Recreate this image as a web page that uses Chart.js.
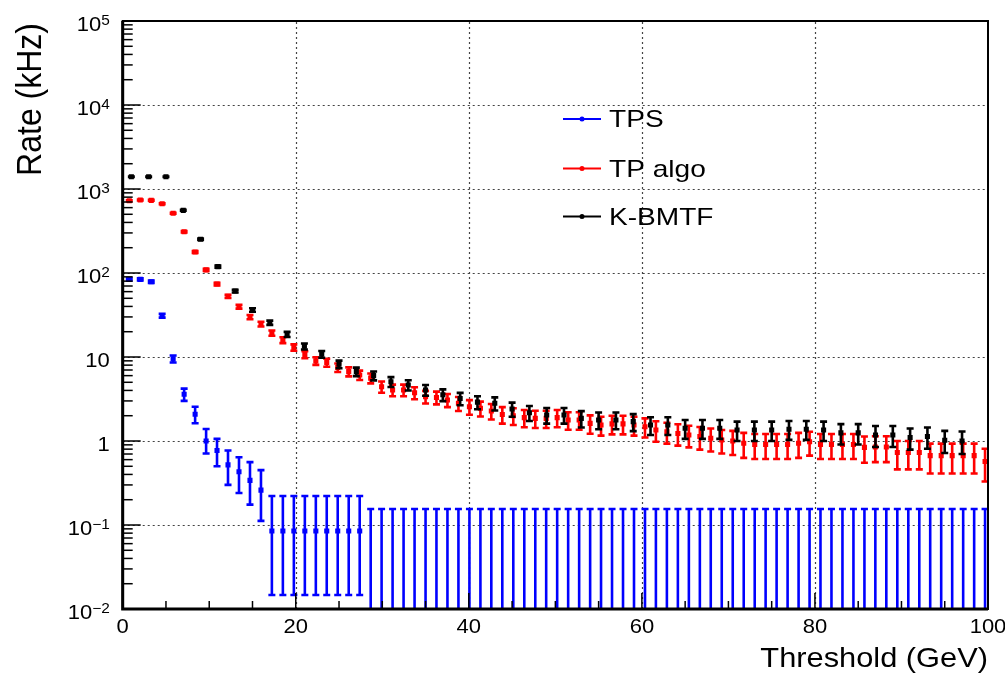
<!DOCTYPE html>
<html><head><meta charset="utf-8">
<script src="https://cdn.jsdelivr.net/npm/chart.js@4.4.0/dist/chart.umd.min.js"></script>
<style>html,body{margin:0;padding:0;background:#fff;}#wrap{width:1005px;height:675px;}</style>
</head><body><div id="wrap"><canvas id="c" width="1005" height="675"></canvas></div>
<script>
// ---------- data ----------
const seriesNames = ['TPS', 'TP algo', 'K-BMTF'];
const xTitle = 'Threshold (GeV)';
const yTitle = 'Rate (kHz)';
const xTickLabels = ['0', '20', '40', '60', '80', '100'];
const xTickValues = [0, 20, 40, 60, 80, 100];
const yTickValues = [1e-2, 1e-1, 1, 10, 1e2, 1e3, 1e4, 1e5];
const yTickLabels = [['10', '\u22122'], ['10', '\u22121'], ['1', ''], ['10', ''], ['10', '2'], ['10', '3'], ['10', '4'], ['10', '5']];

// thresholds of the TPS / TP algo points (GeV)
const thresholdTP = [0.76,2.03,3.30,4.56,5.83,7.10,8.37,9.64,10.90,12.17,
13.44,14.71,15.98,17.24,18.51,19.78,21.05,22.32,23.58,24.85,
26.12,27.39,28.66,29.92,31.19,32.46,33.73,35.00,36.26,37.53,
38.80,40.07,41.34,42.60,43.87,45.14,46.41,47.68,48.94,50.21,
51.48,52.75,54.02,55.28,56.55,57.82,59.09,60.36,61.62,62.89,
64.16,65.43,66.70,67.96,69.23,70.50,71.77,73.04,74.30,75.57,
76.84,78.11,79.38,80.64,81.91,83.18,84.45,85.72,86.98,88.25,
89.52,90.79,92.06,93.32,94.59,95.86,97.13,98.40,99.66];
// thresholds of the K-BMTF points (GeV)
const thresholdKB = [1,3,5,7,9,11,13,15,17,19,21,23,25,27,29,31,33,35,37,39,
41,43,45,47,49,51,53,55,57,59,61,63,65,67,69,71,73,75,77,79,
81,83,85,87,89,91,93,95,97];

// TPS rate (kHz) and error band ends
const tpsRate = [84,84,78.7,31,9.5,3.6,2.08,1.0,0.77,0.52,
0.43,0.34,0.26,0.085,0.085,0.085,0.085,0.085,0.085,0.085,
0.085,0.085,0,0,0,0,0,0,0,0,
0,0,0,0,0,0,0,0,0,0,
0,0,0,0,0,0,0,0,0,0,
0,0,0,0,0,0,0,0,0,0,
0,0,0,0,0,0,0,0,0,0,
0,0,0,0,0,0,0,0,0];
const tpsLow = [81.4,81.4,76.2,29.4,8.6,3.0,1.63,0.71,0.50,0.30,
0.24,0.175,0.112,0.0147,0.0147,0.0147,0.0147,0.0147,0.0147,0.0147,
0.0147,0.0147,0,0,0,0,0,0,0,0,
0,0,0,0,0,0,0,0,0,0,
0,0,0,0,0,0,0,0,0,0,
0,0,0,0,0,0,0,0,0,0,
0,0,0,0,0,0,0,0,0,0,
0,0,0,0,0,0,0,0,0];
const tpsHigh = [86.6,86.6,81.2,32.6,10.4,4.2,2.56,1.39,1.06,0.77,
0.64,0.56,0.45,0.221,0.221,0.221,0.221,0.221,0.221,0.221,
0.221,0.221,0.155,0.155,0.155,0.155,0.155,0.155,0.155,0.155,
0.155,0.155,0.155,0.155,0.155,0.155,0.155,0.155,0.155,0.155,
0.155,0.155,0.155,0.155,0.155,0.155,0.155,0.155,0.155,0.155,
0.155,0.155,0.155,0.155,0.155,0.155,0.155,0.155,0.155,0.155,
0.155,0.155,0.155,0.155,0.155,0.155,0.155,0.155,0.155,0.155,
0.155,0.155,0.155,0.155,0.155,0.155,0.155,0.155,0.155];

// TP algo rate (kHz) and symmetric error
const tpAlgoRate = [726,740,733,668,514,310,178,109,74,52.8,
39.7,29.9,24.7,19.3,15.9,13.0,10.7,9.0,8.6,7.5,
6.7,6.1,5.6,4.43,4.05,4.05,3.75,3.37,3.3,3.08,
2.81,2.56,2.45,2.28,2.07,2.0,1.9,1.86,1.86,1.9,
1.78,1.78,1.62,1.55,1.6,1.6,1.55,1.48,1.35,1.29,
1.23,1.18,1.13,1.08,1.03,1.0,0.94,0.91,0.91,0.91,
0.91,0.94,0.98,0.91,0.91,0.91,0.91,0.84,0.85,0.85,
0.73,0.73,0.73,0.67,0.67,0.67,0.67,0.67,0.57];
const tpAlgoErr = [8.5,8.6,8.6,8.2,7.2,5.6,4.2,3.3,2.7,2.3,
2.0,1.7,1.6,1.4,1.26,1.14,1.03,0.95,0.93,0.87,
0.82,0.78,0.75,0.67,0.64,0.64,0.61,0.58,0.57,0.55,
0.53,0.51,0.49,0.48,0.46,0.45,0.44,0.43,0.43,0.44,
0.42,0.42,0.40,0.39,0.40,0.40,0.39,0.38,0.37,0.36,
0.35,0.34,0.34,0.33,0.32,0.32,0.31,0.30,0.30,0.30,
0.30,0.31,0.31,0.30,0.30,0.30,0.30,0.29,0.29,0.29,
0.27,0.27,0.27,0.26,0.26,0.26,0.26,0.26,0.24];

// K-BMTF rate (kHz) and symmetric error
const kbmtfRate = [1400,1400,1400,557,252,119,61,36.3,25.6,18.6,
13.4,10.8,8.2,6.7,6.0,5.08,4.64,4.05,3.55,3.2,
2.9,2.81,2.4,2.17,2.04,2.04,1.86,1.78,1.78,1.70,
1.55,1.55,1.42,1.42,1.42,1.35,1.35,1.35,1.38,1.38,
1.35,1.25,1.25,1.18,1.18,1.1,1.13,1.02,1.0];
const kbmtfErr = [11,11,11,7,4.8,3.3,2.3,1.8,1.5,1.3,
1.1,0.99,0.86,0.78,0.73,0.68,0.65,0.60,0.57,0.54,
0.51,0.50,0.46,0.44,0.43,0.43,0.41,0.40,0.40,0.39,
0.37,0.37,0.36,0.36,0.36,0.35,0.35,0.35,0.35,0.35,
0.35,0.34,0.34,0.33,0.33,0.31,0.32,0.30,0.30];

const colors = ['#0000ff', '#ff0000', '#000000'];

// ---------- helpers ----------
const FONT = '"Liberation Sans", Arial, Helvetica, sans-serif';
function stretchText(ctx, str, x, y, size, align, sx) {
  ctx.save();
  ctx.font = size + 'px ' + FONT;
  ctx.textAlign = align; ctx.textBaseline = 'alphabetic';
  ctx.translate(x, y); ctx.scale(sx, 1);
  ctx.fillText(str, 0, 0);
  ctx.restore();
}

const rootStyle = {
  id: 'rootStyle',
  beforeDatasetsDraw(chart) {
    const {ctx, chartArea: a, scales: {x, y}} = chart;
    ctx.save();
    ctx.strokeStyle = '#444'; ctx.lineWidth = 1.2; ctx.setLineDash([2, 3]);
    xTickValues.slice(1, -1).forEach(v => {
      const px = Math.round(x.getPixelForValue(v)) + 0.5;
      ctx.beginPath(); ctx.moveTo(px, a.bottom); ctx.lineTo(px, a.top); ctx.stroke();
    });
    yTickValues.slice(1, -1).forEach(v => {
      const py = Math.round(y.getPixelForValue(v)) + 0.5;
      ctx.beginPath(); ctx.moveTo(a.left, py); ctx.lineTo(a.right, py); ctx.stroke();
    });
    ctx.restore();
  },
  beforeDatasetDraw(chart, args) {
    const ds = chart.data.datasets[args.index];
    const {ctx, chartArea: a, scales: {x, y}} = chart;
    ctx.save();
    ctx.beginPath(); ctx.rect(a.left, a.top, a.right - a.left, a.bottom - a.top); ctx.clip();
    ctx.strokeStyle = ds.borderColor; ctx.lineWidth = 2.6; ctx.setLineDash([]);
    ds.xs.forEach((xv, i) => {
      const lo = ds.errLo[i], hi = ds.errHi[i];
      const px = x.getPixelForValue(xv);
      const pLo = lo > 0 ? y.getPixelForValue(lo) : a.bottom + 5;
      const pHi = y.getPixelForValue(hi);
      ctx.beginPath();
      ctx.moveTo(px, pLo); ctx.lineTo(px, pHi);
      ctx.moveTo(px - 3.5, pHi); ctx.lineTo(px + 3.5, pHi);
      if (lo > 0) { ctx.moveTo(px - 3.5, pLo); ctx.lineTo(px + 3.5, pLo); }
      ctx.stroke();
    });
    ctx.restore();
  },
  afterDraw(chart) {
    const {ctx, chartArea: a, scales: {x, y}} = chart;
    ctx.save();
    // frame
    ctx.strokeStyle = '#000'; ctx.lineWidth = 2; ctx.setLineDash([]);
    ctx.strokeRect(a.left, a.top, a.right - a.left, a.bottom - a.top);
    ctx.lineWidth = 3;
    ctx.beginPath(); ctx.moveTo(a.left, a.top); ctx.lineTo(a.left, a.bottom); ctx.lineTo(a.right, a.bottom); ctx.stroke();
    // x ticks (inside)
    ctx.lineWidth = 1.5;
    for (let v = 0; v <= 100; v += 5) {
      const px = x.getPixelForValue(v);
      const len = (v % 20 === 0) ? 16 : 8;
      ctx.beginPath(); ctx.moveTo(px, a.bottom); ctx.lineTo(px, a.bottom - len); ctx.stroke();
    }
    // y ticks (inside, log)
    for (let e = -2; e <= 4; e++) {
      for (let m = 1; m <= 9; m++) {
        const v = m * Math.pow(10, e);
        const py = y.getPixelForValue(v);
        const len = m === 1 ? 18 : 10;
        ctx.beginPath(); ctx.moveTo(a.left, py); ctx.lineTo(a.left + len, py); ctx.stroke();
      }
    }
    ctx.fillStyle = '#000';
    // x tick labels
    xTickValues.forEach((v, i) => {
      stretchText(ctx, xTickLabels[i], x.getPixelForValue(v), a.bottom + 24, 20, 'center', 1.1);
    });
    // y tick labels with exponents
    yTickValues.forEach((v, i) => {
      const py = y.getPixelForValue(v);
      const [base, exp] = yTickLabels[i];
      const right = a.left - 13;
      ctx.font = '14px ' + FONT;
      const we = exp ? ctx.measureText(exp).width * 1.1 : 0;
      if (exp) stretchText(ctx, exp, right, py + 4, 14, 'right', 1.1);
      stretchText(ctx, base, right - we, py + 10, 20, 'right', 1.1);
    });
    // axis titles
    stretchText(ctx, xTitle, a.right, a.bottom + 58, 28, 'right', 1.1);
    ctx.save();
    ctx.font = '32px ' + FONT; ctx.textAlign = 'right'; ctx.textBaseline = 'alphabetic';
    ctx.translate(41, a.top + 2); ctx.scale(1.1, 1); ctx.rotate(-Math.PI / 2);
    ctx.fillText(yTitle, 0, 0);
    ctx.restore();
    // legend
    const legY = [119, 168.5, 216.5];
    seriesNames.forEach((name, i) => {
      ctx.strokeStyle = colors[i]; ctx.fillStyle = colors[i]; ctx.lineWidth = 2;
      ctx.beginPath(); ctx.moveTo(563, legY[i]); ctx.lineTo(601, legY[i]); ctx.stroke();
      ctx.beginPath(); ctx.arc(582, legY[i], 2.5, 0, Math.PI * 2); ctx.fill();
      ctx.fillStyle = '#000';
      stretchText(ctx, name, 609, legY[i] + 8, 24, 'left', 1.17);
    });
    ctx.restore();
  }
};

function mk(i, xs, rate, lo, hi, order) {
  return {
    label: seriesNames[i],
    data: xs.map((xv, k) => ({x: xv, y: rate[k] > 0 ? rate[k] : null})),
    xs: xs, errLo: lo, errHi: hi,
    backgroundColor: colors[i], borderColor: colors[i],
    pointStyle: 'rect', pointRadius: 3.6, pointBorderWidth: 0, pointHoverRadius: 3.6,
    showLine: false, order: order
  };
}

const datasets = [
  mk(0, thresholdTP, tpsRate, tpsLow, tpsHigh, 2),
  mk(1, thresholdTP, tpAlgoRate, tpAlgoRate.map((v, k) => v - tpAlgoErr[k]), tpAlgoRate.map((v, k) => v + tpAlgoErr[k]), 1),
  mk(2, thresholdKB, kbmtfRate, kbmtfRate.map((v, k) => v - kbmtfErr[k]), kbmtfRate.map((v, k) => v + kbmtfErr[k]), 0)
];

new Chart(document.getElementById('c'), {
  type: 'scatter',
  data: {datasets},
  options: {
    responsive: false, animation: false, devicePixelRatio: 1,
    layout: {padding: {left: 0, right: 17, top: 21, bottom: 0}},
    plugins: {legend: {display: false}, tooltip: {enabled: false}},
    scales: {
      x: {type: 'linear', min: 0, max: 100, grid: {display: false}, border: {display: false},
          ticks: {display: false}, afterFit(s) { s.height = 66; }},
      y: {type: 'logarithmic', min: 0.01, max: 1e5, grid: {display: false}, border: {display: false},
          ticks: {display: false}, afterFit(s) { s.width = 122.7; }}
    }
  },
  plugins: [rootStyle]
});
</script>
</body></html>
